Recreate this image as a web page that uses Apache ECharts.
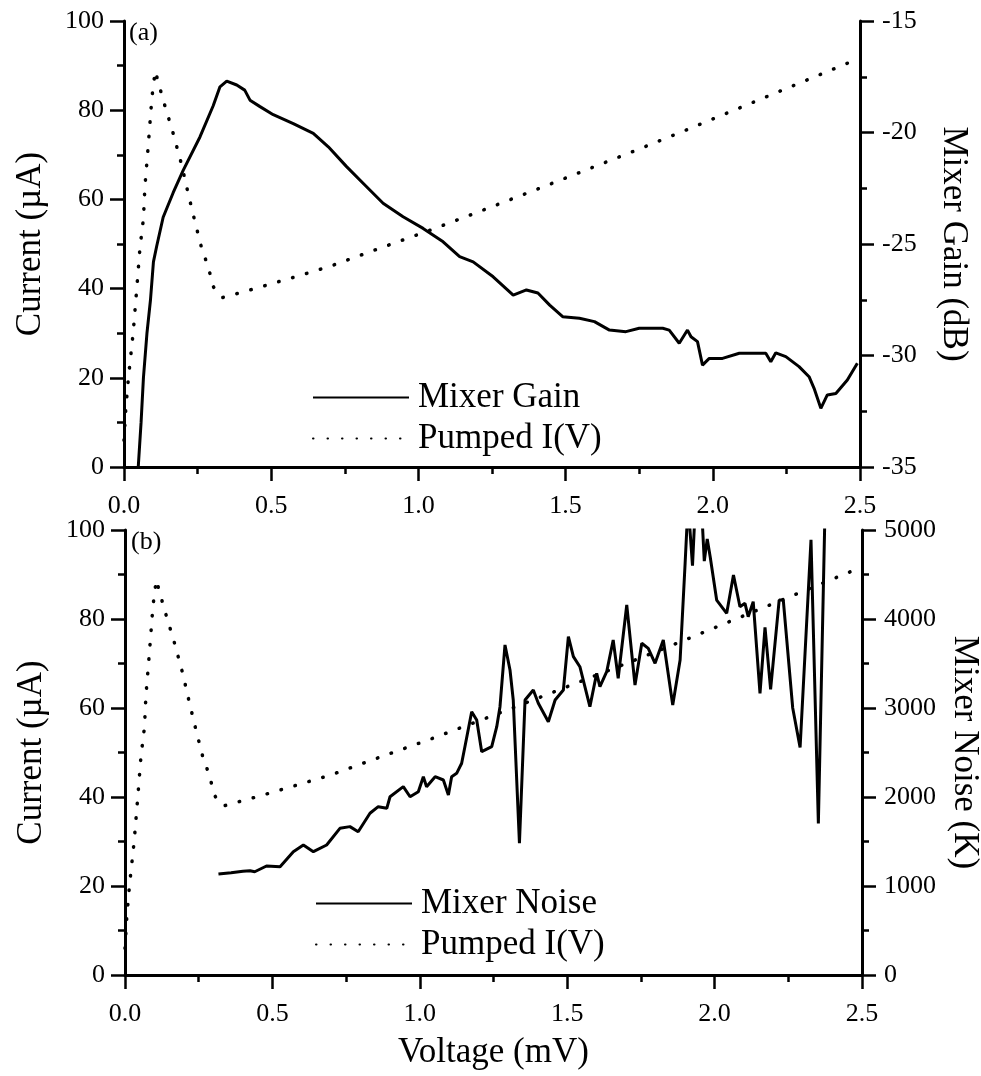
<!DOCTYPE html>
<html>
<head>
<meta charset="utf-8">
<script src="https://cdn.jsdelivr.net/npm/echarts@6/dist/echarts.min.js"></script>
<style>
html,body{margin:0;padding:0;background:#fff;}
#chart{width:981px;height:1076px;}
</style>
</head>
<body>
<div id="chart"></div>
<script>
// Pumped I(V) curve (mV, µA) - same in both panels
const pumpV = [0, 0.006, 0.015, 0.031, 0.043, 0.054, 0.066, 0.071, 0.082, 0.095, 0.106, 0.133, 0.167, 0.196, 0.218, 0.241, 0.264, 0.286, 0.303, 0.318, 0.335, 0.45, 0.6, 0.7, 0.85, 1.04, 1.2, 1.4, 1.6, 1.75, 1.9, 2.05, 2.2, 2.35, 2.5];
const pumpI = [6, 13, 20, 30, 39.7, 49, 55.7, 62.8, 71.8, 83, 88.8, 82.3, 74.8, 67.7, 61.3, 55, 49, 44.9, 40.5, 38.8, 38.0, 40.1, 43.0, 45.0, 48.6, 53.1, 57.1, 62.2, 67.4, 71.3, 75.3, 79.4, 83.5, 87.6, 91.7];

// Mixer gain (mV, dB) - panel (a)
const gainV = [0.046, 0.058, 0.066, 0.078, 0.09, 0.1, 0.111, 0.133, 0.167, 0.201, 0.258, 0.303, 0.326, 0.349, 0.383, 0.41, 0.428, 0.462, 0.507, 0.575, 0.643, 0.694, 0.756, 0.824, 0.88, 0.948, 1.016, 1.084, 1.14, 1.186, 1.254, 1.322, 1.367, 1.406, 1.446, 1.49, 1.547, 1.598, 1.649, 1.705, 1.75, 1.83, 1.852, 1.886, 1.914, 1.926, 1.948, 1.965, 1.988, 2.033, 2.09, 2.18, 2.197, 2.214, 2.248, 2.293, 2.327, 2.344, 2.367, 2.389, 2.418, 2.457, 2.491];
const gainDB = [-35.5, -33, -31, -29, -27.5, -25.8, -25.1, -23.8, -22.7, -21.7, -20.2, -18.8, -17.95, -17.7, -17.87, -18.1, -18.55, -18.84, -19.2, -19.6, -20.04, -20.64, -21.53, -22.43, -23.17, -23.78, -24.3, -24.9, -25.57, -25.8, -26.47, -27.29, -27.06, -27.2, -27.74, -28.26, -28.33, -28.48, -28.86, -28.93, -28.78, -28.78, -28.86, -29.45, -28.86, -29.16, -29.38, -30.43, -30.13, -30.13, -29.9, -29.9, -30.28, -29.88, -30.05, -30.5, -30.95, -31.47, -32.37, -31.77, -31.7, -31.1, -30.35];

// Mixer noise (mV, K) - panel (b)
const noiseV = [0.317, 0.36, 0.40, 0.424, 0.44, 0.48, 0.526, 0.571, 0.605, 0.639, 0.684, 0.729, 0.763, 0.791, 0.831, 0.859, 0.888, 0.899, 0.944, 0.967, 0.995, 1.012, 1.023, 1.052, 1.08, 1.097, 1.108, 1.125, 1.142, 1.153, 1.176, 1.193, 1.21, 1.244, 1.261, 1.272, 1.289, 1.306, 1.317, 1.338, 1.357, 1.385, 1.402, 1.436, 1.459, 1.487, 1.504, 1.521, 1.543, 1.577, 1.6, 1.611, 1.634, 1.656, 1.673, 1.702, 1.73, 1.753, 1.775, 1.798, 1.826, 1.858, 1.883, 1.9, 1.91, 1.925, 1.935, 1.955, 1.965, 1.975, 1.985, 2.007, 2.041, 2.064, 2.086, 2.103, 2.114, 2.131, 2.154, 2.171, 2.19, 2.219, 2.233, 2.265, 2.29, 2.327, 2.352, 2.375];
const noiseK = [1135, 1150, 1165, 1172, 1160, 1225, 1217, 1386, 1461, 1386, 1461, 1648, 1667, 1610, 1817, 1891, 1873, 2003, 2116, 2003, 2060, 2228, 2116, 2228, 2191, 2022, 2228, 2266, 2379, 2565, 2958, 2865, 2509, 2565, 2790, 3015, 3708, 3427, 3090, 1480, 3090, 3202, 3053, 2846, 3090, 3202, 3801, 3577, 3464, 3015, 3390, 3240, 3408, 3764, 3334, 4157, 3258, 3727, 3670, 3502, 3764, 3034, 3539, 4626, 5300, 4600, 5300, 5300, 4650, 4900, 4700, 4213, 4064, 4494, 4138, 4176, 4026, 4194, 3165, 3905, 3210, 4213, 4213, 3000, 2556, 4890, 1704, 5300];

const FONT = 'Liberation Serif';
const zip = (a, b) => a.map((v, i) => [v, b[i]]);

const axisCommon = {
  axisLine: { show: true, onZero: false, lineStyle: { color: '#000', width: 3 } },
  axisTick: { show: true, length: 14, lineStyle: { color: '#000', width: 2.5 } },
  minorTick: { show: true, splitNumber: 2, length: 7, lineStyle: { color: '#000', width: 2.5 } },
  splitLine: { show: false },
  minorSplitLine: { show: false },
  axisLabel: { color: '#000', fontFamily: FONT, fontSize: 26 },
  nameTextStyle: { color: '#000', fontFamily: FONT, fontSize: 35 }
};
function ax(extra) {
  const o = JSON.parse(JSON.stringify(axisCommon));
  for (const k in extra) {
    if (typeof extra[k] === 'object' && !Array.isArray(extra[k]) && o[k]) Object.assign(o[k], extra[k]);
    else o[k] = extra[k];
  }
  return o;
}

const solid = { color: '#000', width: 3 };
const dotted = { color: '#000', width: 3.5, type: [0.5, 14], cap: 'round' };

const legendCommon = {
  orient: 'vertical', itemWidth: 96, itemHeight: 20, itemGap: 6, selectedMode: false,
  itemStyle: { opacity: 0 },
  textStyle: { fontFamily: FONT, fontSize: 35, color: '#000', padding: [0, 0, 0, 4] }
};

const option = {
  backgroundColor: '#fff',
  animation: false,
  title: [
    { text: '(a)', left: 129, top: 20, padding: 0, textStyle: { fontFamily: FONT, fontSize: 26, fontWeight: 'normal', color: '#000' } },
    { text: '(b)', left: 131, top: 529, padding: 0, textStyle: { fontFamily: FONT, fontSize: 26, fontWeight: 'normal', color: '#000' } }
  ],
  grid: [
    { left: 124, right: 121, top: 21, height: 446, outerBoundsMode: 'none', containLabel: false },
    { left: 125, right: 119, top: 530, height: 445, outerBoundsMode: 'none', containLabel: false }
  ],
  legend: [
    Object.assign({}, legendCommon, { left: 307, top: 375, data: ['Mixer Gain', 'Pumped I(V)'] }),
    Object.assign({}, legendCommon, { left: 310, top: 881, data: ['Mixer Noise', 'Pumped I(V)'] })
  ],
  xAxis: [
    ax({ type: 'value', gridIndex: 0, min: 0, max: 2.5, interval: 0.5,
      axisLabel: { margin: 26, formatter: v => v.toFixed(1) } }),
    ax({ type: 'value', gridIndex: 1, min: 0, max: 2.5, interval: 0.5,
      name: 'Voltage (mV)', nameLocation: 'middle', nameGap: 60,
      axisLabel: { margin: 26, formatter: v => v.toFixed(1) } })
  ],
  yAxis: [
    ax({ type: 'value', gridIndex: 0, position: 'left', min: 0, max: 100, interval: 20,
      name: 'Current (µA)', nameLocation: 'middle', nameGap: 76, axisLabel: { margin: 20, formatter: v => String(v) } }),
    ax({ type: 'value', gridIndex: 0, position: 'right', min: -35, max: -15, interval: 5,
      name: 'Mixer Gain (dB)', nameLocation: 'middle', nameGap: 76, nameRotate: -90, axisLabel: { margin: 22, formatter: v => String(v) } }),
    ax({ type: 'value', gridIndex: 1, position: 'left', min: 0, max: 100, interval: 20,
      name: 'Current (µA)', nameLocation: 'middle', nameGap: 76, axisLabel: { margin: 20, formatter: v => String(v) } }),
    ax({ type: 'value', gridIndex: 1, position: 'right', min: 0, max: 5000, interval: 1000,
      name: 'Mixer Noise (K)', nameLocation: 'middle', nameGap: 74, nameRotate: -90, axisLabel: { margin: 22, formatter: v => String(v) } })
  ],
  series: [
    { name: 'Mixer Gain', type: 'line', xAxisIndex: 0, yAxisIndex: 1, data: zip(gainV, gainDB),
      showSymbol: false, symbol: 'none', lineStyle: solid, itemStyle: { color: '#000' }, clip: true },
    { name: 'Pumped I(V)', type: 'line', xAxisIndex: 0, yAxisIndex: 0, data: zip(pumpV, pumpI),
      showSymbol: false, symbol: 'none', lineStyle: dotted, itemStyle: { color: '#000' }, clip: true },
    { name: 'Mixer Noise', type: 'line', xAxisIndex: 1, yAxisIndex: 3, data: zip(noiseV, noiseK),
      showSymbol: false, symbol: 'none', lineStyle: solid, itemStyle: { color: '#000' }, clip: true },
    { name: 'Pumped I(V)', type: 'line', xAxisIndex: 1, yAxisIndex: 2, data: zip(pumpV, pumpI),
      showSymbol: false, symbol: 'none', lineStyle: dotted, itemStyle: { color: '#000' }, clip: true }
  ]
};

const chart = echarts.init(document.getElementById('chart'), null, { renderer: 'canvas' });
chart.setOption(option);
</script>
</body>
</html>
